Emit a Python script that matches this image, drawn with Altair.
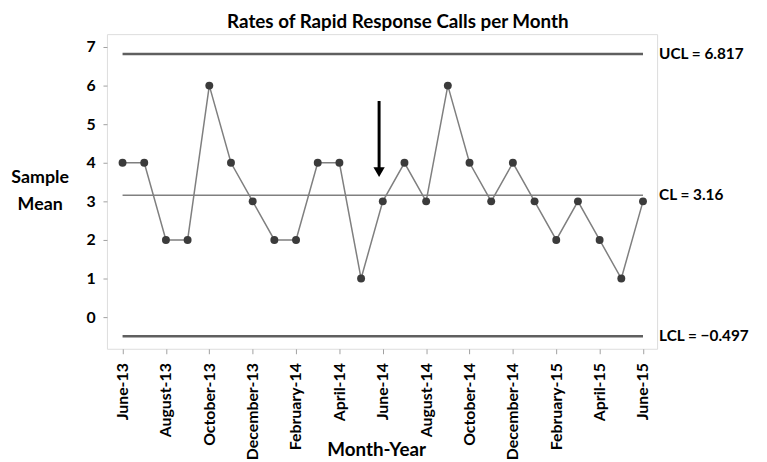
import json
import altair as alt
import pandas as pd

months = ["June-13", "July-13", "August-13", "September-13", "October-13", "November-13",
          "December-13", "January-14", "February-14", "March-14", "April-14", "May-14",
          "June-14", "July-14", "August-14", "September-14", "October-14", "November-14",
          "December-14", "January-15", "February-15", "March-15", "April-15", "May-15", "June-15"]
values = [4, 4, 2, 2, 6, 4, 3, 2, 2, 4, 4, 1, 3, 4, 3, 6, 4, 3, 4, 3, 2, 3, 2, 1, 3]

limit_names = ["UCL", "CL", "LCL"]
limit_values = [6.817, 3.16, -0.497]
limit_labels = ["UCL = 6.817", "CL = 3.16", "LCL = \u22120.497"]

# annotation arrow (x in month index units, y in data units)
arrow_x = [11.83]
arrow_top = [5.6]
arrow_tip = [3.76]

FONT = "Lato"

df = pd.DataFrame({"idx": list(range(len(months))), "month": months, "value": values})
lim = pd.DataFrame({"name": limit_names, "value": limit_values, "label": limit_labels,
                    "x0": 0, "x1": len(months) - 1})
arr = pd.DataFrame({"x": arrow_x, "y1": arrow_top, "y2": arrow_tip})

xscale = alt.Scale(domain=[-0.72, 24.65], nice=False, zero=False)
yscale = alt.Scale(domain=[-0.82, 7.333], nice=False, zero=False)

label_expr = json.dumps(months) + "[datum.value]"

x_axis = alt.Axis(values=list(range(0, 25, 2)), labelExpr=label_expr, labelAngle=-90,
                  labelAlign="right", labelBaseline="middle", labelFont=FONT,
                  labelFontWeight="bold", labelFontSize=16, labelColor="black",
                  labelPadding=9, labelFlush=False, labelOverlap=False,
                  tickSize=5, tickColor="#a0a0a0", domain=False, grid=False,
                  title="Month-Year", titleFont=FONT, titleFontSize=19, titleFontWeight="bold",
                  titleColor="black", titleX=272, titleY=102, titleAlign="center",
                  titleBaseline="middle")

y_axis = alt.Axis(values=list(range(0, 8)), labelFont=FONT, labelFontWeight="bold",
                  labelFontSize=16, labelColor="black", labelPadding=8, labelFlush=False,
                  tickSize=4, tickColor="#a0a0a0", domain=False, grid=False,
                  title=["Sample", "Mean"], titleAngle=0, titleX=-68, titleY=136,
                  titleAlign="center", titleBaseline="top", titleLineHeight=27,
                  titleFont=FONT, titleFontSize=18, titleFontWeight="bold", titleColor="black")

line = alt.Chart(df).mark_line(color="#7f7f7f", strokeWidth=1.5).encode(
    x=alt.X("idx:Q", scale=xscale, axis=x_axis),
    y=alt.Y("value:Q", scale=yscale, axis=y_axis),
)
points = alt.Chart(df).mark_circle(size=64, color="#3b3b3b", opacity=1).encode(
    x="idx:Q", y="value:Q"
)

thick = alt.Chart(lim).transform_filter("datum.name != 'CL'").mark_rule(
    color="#5f5f5f", strokeWidth=2.5).encode(x="x0:Q", x2="x1:Q", y="value:Q")
thin = alt.Chart(lim).transform_filter("datum.name == 'CL'").mark_rule(
    color="#808080", strokeWidth=1.5).encode(x="x0:Q", x2="x1:Q", y="value:Q")

labels = alt.Chart(lim).mark_text(align="left", baseline="middle", font=FONT,
                                  fontWeight="bold", fontSize=15.5, color="black").encode(
    x=alt.value(558), y="value:Q", text="label:N")

arrow_shaft = alt.Chart(arr).mark_rule(color="black", strokeWidth=3).encode(
    x="x:Q", y="y1:Q", y2="y2:Q")
arrow_head = alt.Chart(arr).mark_point(shape="triangle-down", size=130, filled=True,
                                       color="black", opacity=1).encode(x="x:Q", y="y2:Q")

chart = alt.layer(thick, thin, line, points, labels, arrow_shaft, arrow_head).properties(
    width=556, height=318,
    title=alt.TitleParams("Rates of Rapid Response Calls per Month", font=FONT, fontSize=19,
                          fontWeight="bold", color="black", dx=16, offset=2, anchor="middle"),
    autosize=alt.AutoSizeParams(type="none"),
    padding={"left": 100, "top": 24, "right": 103, "bottom": 112},
).configure_view(stroke="#c0c0c0", strokeWidth=2).configure(background="white")

chart.save("out.html", embed_options={"renderer": "svg", "actions": False})
